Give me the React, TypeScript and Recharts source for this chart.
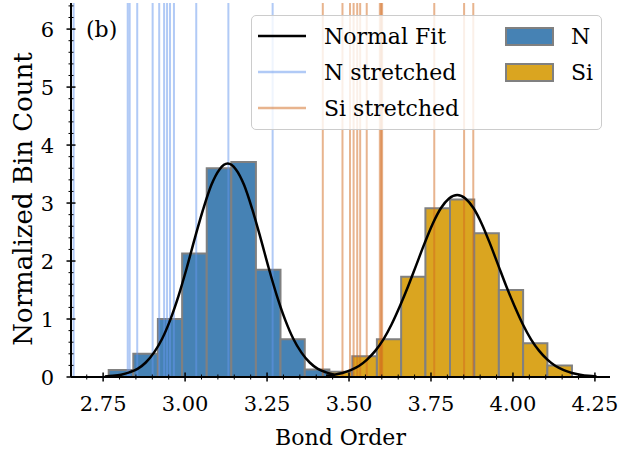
import React from "react";
import { ComposedChart, XAxis, YAxis, Line, ReferenceArea, ReferenceLine, Legend } from "recharts";

// histogram bins (normalized counts)
const nBinEdges = [2.767, 2.842, 2.917, 2.991, 3.066, 3.141, 3.216, 3.291, 3.365, 3.44];
const nCounts = [0.12, 0.4, 1.0, 2.13, 3.6, 3.71, 1.85, 0.65, 0.13];
const siBinEdges = [3.436, 3.51, 3.585, 3.659, 3.733, 3.808, 3.882, 3.957, 4.031, 4.105, 4.18];
const siCounts = [0.09, 0.36, 0.65, 1.73, 2.91, 3.06, 2.48, 1.5, 0.58, 0.2];

// stretched bond orders (vertical lines)
const nStretched = [2.66, 2.825, 2.831, 2.854, 2.901, 2.921, 2.936, 2.945, 2.954, 2.966, 3.034, 3.132, 3.267];
const siStretched = [3.42, 3.48, 3.503, 3.514, 3.525, 3.534, 3.554, 3.594, 3.598, 3.601, 3.76, 3.851, 3.879];

// normal fit curves
const nFitX = [2.755, 2.78, 2.805, 2.83, 2.855, 2.88, 2.905, 2.93, 2.955, 2.98, 3.005, 3.03, 3.055, 3.08, 3.105, 3.13,
  3.155, 3.18, 3.205, 3.23, 3.255, 3.28, 3.305, 3.33, 3.355, 3.38, 3.405, 3.43, 3.455];
const nFitY = [0.01, 0.02, 0.04, 0.08, 0.14, 0.25, 0.42, 0.66, 0.99, 1.4, 1.88, 2.4, 2.89, 3.31, 3.58, 3.68,
  3.58, 3.31, 2.89, 2.4, 1.88, 1.4, 0.99, 0.66, 0.42, 0.25, 0.14, 0.08, 0.04];
const siFitX = [3.43, 3.455, 3.48, 3.505, 3.53, 3.555, 3.58, 3.605, 3.63, 3.655, 3.68, 3.705, 3.73, 3.755, 3.78, 3.805, 3.83,
  3.855, 3.88, 3.905, 3.93, 3.955, 3.98, 4.005, 4.03, 4.055, 4.08, 4.105, 4.13, 4.155, 4.18, 4.205, 4.23, 4.255];
const siFitY = [0.02, 0.04, 0.07, 0.12, 0.19, 0.3, 0.45, 0.65, 0.91, 1.22, 1.56, 1.93, 2.3, 2.64, 2.91, 3.08, 3.14,
  3.08, 2.91, 2.64, 2.3, 1.93, 1.56, 1.22, 0.91, 0.65, 0.45, 0.3, 0.19, 0.12, 0.07, 0.04, 0.02, 0.01];

const xTicks = [2.7, 2.75, 2.8, 2.85, 2.9, 2.95, 3.0, 3.05, 3.1, 3.15, 3.2, 3.25, 3.3, 3.35, 3.4, 3.45, 3.5, 3.55, 3.6,
  3.65, 3.7, 3.75, 3.8, 3.85, 3.9, 3.95, 4.0, 4.05, 4.1, 4.15, 4.2, 4.25];
const yTicks = [0, 0.2, 0.4, 0.6, 0.8, 1, 1.2, 1.4, 1.6, 1.8, 2, 2.2, 2.4, 2.6, 2.8, 3, 3.2, 3.4, 3.6, 3.8, 4, 4.2, 4.4,
  4.6, 4.8, 5, 5.2, 5.4, 5.6, 5.8, 6, 6.2, 6.4];
const xDomain = [2.652, 4.296];
const yDomain = [0, 6.45];

const FONT = "'DejaVu Serif', serif";
const N_FILL = "#4682b4";
const SI_FILL = "#daa520";
const EDGE = "#808080";
const N_LINE = "#6495ed";
const SI_LINE = "#d2691e";

const nFit = nFitX.map((x, i) => ({ x, y: nFitY[i] }));
const siFit = siFitX.map((x, i) => ({ x, y: siFitY[i] }));

const XTick = (props: any) => {
  const { x, y, payload } = props;
  const v = payload.value;
  const major = Math.abs(v * 4 - Math.round(v * 4)) < 1e-6;
  const len = major ? 4.5 : 2.5;
  return (
    <g>
      <line x1={x} x2={x} y1={y - len} y2={y + len} stroke="#000" strokeWidth={major ? 1.5 : 1} />
      {major && (
        <text x={x} y={y + 34} textAnchor="middle" fontSize={21} fontFamily={FONT} fill="#000">
          {v.toFixed(2)}
        </text>
      )}
    </g>
  );
};

const YTick = (props: any) => {
  const { x, y, payload } = props;
  const v = payload.value;
  const major = Math.abs(v - Math.round(v)) < 1e-6;
  const len = major ? 4.5 : 2.5;
  return (
    <g>
      <line x1={x - len} x2={x + len} y1={y} y2={y} stroke="#000" strokeWidth={major ? 1.5 : 1} />
      {major && (
        <text x={x - 17} y={y} dy="0.36em" textAnchor="end" fontSize={21} fontFamily={FONT} fill="#000">
          {Math.round(v)}
        </text>
      )}
    </g>
  );
};

const legendLines = [
  { label: "Normal Fit", color: "#000", opacity: 1 },
  { label: "N stretched", color: N_LINE, opacity: 0.5 },
  { label: "Si stretched", color: SI_LINE, opacity: 0.5 },
];
const legendPatches = [
  { label: "N", fill: N_FILL },
  { label: "Si", fill: SI_FILL },
];

const LegendBox = () => (
  <div
    style={{
      width: 351,
      height: 115,
      boxSizing: "border-box",
      border: "1.5px solid #cccccc",
      borderRadius: 5,
      background: "rgba(255,255,255,0.8)",
    }}
  >
    <svg width={348} height={112} style={{ display: "block" }}>
      {legendLines.map((d, i) => (
        <g key={d.label}>
          <line x1={6} x2={54} y1={20 + i * 36} y2={20 + i * 36} stroke={d.color} strokeOpacity={d.opacity} strokeWidth={2.5} />
          <text x={72} y={20 + i * 36} dy="0.36em" fontSize={22} fontFamily={FONT} fill="#000">
            {d.label}
          </text>
        </g>
      ))}
      {legendPatches.map((d, i) => (
        <g key={d.label}>
          <rect x={254} y={12 + i * 36} width={47} height={17} fill={d.fill} stroke={EDGE} strokeWidth={2} />
          <text x={319} y={20 + i * 36} dy="0.36em" fontSize={22} fontFamily={FONT} fill="#000">
            {d.label}
          </text>
        </g>
      ))}
    </svg>
  </div>
);

export default function App() {
  return (
    <div style={{ position: "absolute", left: 0, top: 0, width: 620, height: 456, background: "#fff" }}>
      <ComposedChart width={620} height={456} margin={{ top: 3, right: 10, bottom: 0, left: 0 }}>
        <XAxis
          type="number"
          dataKey="x"
          domain={xDomain}
          allowDataOverflow
          ticks={xTicks}
          interval={0}
          tick={<XTick />}
          tickLine={false}
          tickSize={0}
          tickMargin={0}
          height={79}
          axisLine={{ stroke: "#000", strokeWidth: 2 }}
          label={{
            content: (p: any) => {
              const vb = p.viewBox ?? { x: 71, y: 377, width: 539, height: 79 };
              return (
                <text x={vb.x + vb.width / 2} y={vb.y + 68} textAnchor="middle" fontSize={22} fontFamily={FONT} fill="#000">
                  Bond Order
                </text>
              );
            },
          }}
        />
        <XAxis xAxisId="top" orientation="top" type="number" domain={xDomain} allowDataOverflow height={0} tick={false} tickLine={false} axisLine={{ stroke: "#000", strokeWidth: 2 }} />
        <YAxis
          type="number"
          domain={yDomain}
          allowDataOverflow
          ticks={yTicks}
          interval={0}
          tick={<YTick />}
          tickLine={false}
          tickSize={0}
          tickMargin={0}
          width={71}
          axisLine={{ stroke: "#000", strokeWidth: 2 }}
          label={{
            content: (p: any) => {
              const vb = p.viewBox ?? { x: 0, y: 3, width: 71, height: 374 };
              const cx = vb.x + 32;
              const cy = vb.y + vb.height / 2 + 9;
              return (
                <text x={cx} y={cy} transform={`rotate(-90 ${cx} ${cy})`} textAnchor="middle" fontSize={26} fontFamily={FONT} fill="#000">
                  Normalized Bin Count
                </text>
              );
            },
          }}
        />
        <YAxis yAxisId="right" orientation="right" type="number" domain={yDomain} allowDataOverflow width={0} tick={false} tickLine={false} axisLine={{ stroke: "#000", strokeWidth: 2 }} />

        {nCounts.map((c, i) => (
          <ReferenceArea key={`n${i}`} x1={nBinEdges[i]} x2={nBinEdges[i + 1]} y1={0} y2={c} fill={N_FILL} fillOpacity={1} stroke={EDGE} strokeWidth={2} />
        ))}
        {siCounts.map((c, i) => (
          <ReferenceArea key={`s${i}`} x1={siBinEdges[i]} x2={siBinEdges[i + 1]} y1={0} y2={c} fill={SI_FILL} fillOpacity={1} stroke={EDGE} strokeWidth={2} />
        ))}
        {nStretched.map((v, i) => (
          <ReferenceLine key={`nl${i}`} x={v} stroke={N_LINE} strokeOpacity={0.5} strokeWidth={2} />
        ))}
        {siStretched.map((v, i) => (
          <ReferenceLine key={`sl${i}`} x={v} stroke={SI_LINE} strokeOpacity={0.5} strokeWidth={2} />
        ))}

        <Line data={nFit} dataKey="y" type="monotone" stroke="#000" strokeWidth={2.5} dot={false} isAnimationActive={false} />
        <Line data={siFit} dataKey="y" type="monotone" stroke="#000" strokeWidth={2.5} dot={false} isAnimationActive={false} />

        <Legend verticalAlign="middle" align="center" layout="horizontal" wrapperStyle={{ left: 251, top: 15, width: 351, height: 115 }} content={() => <LegendBox />} />
      </ComposedChart>
      <div style={{ position: "absolute", left: 86, top: 17, fontSize: 22, fontFamily: FONT, color: "#000", lineHeight: "26px" }}>(b)</div>
    </div>
  );
}
